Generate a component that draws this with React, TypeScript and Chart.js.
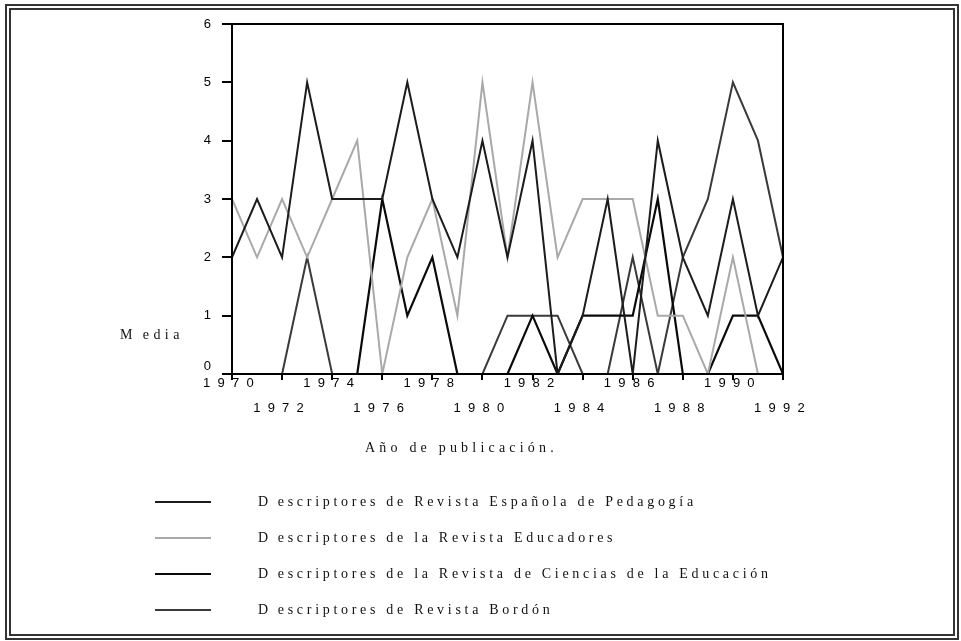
import React, { useEffect, useRef } from "react";
import { Chart, registerables } from "chart.js";

Chart.register(...registerables);

const years = [1970, 1971, 1972, 1973, 1974, 1975, 1976, 1977, 1978, 1979, 1980, 1981, 1982, 1983, 1984, 1985, 1986, 1987, 1988, 1989, 1990, 1991, 1992];
const espanola = [2, 3, 2, 5, 3, 3, 3, 5, 3, 2, 4, 2, 4, 0, 1, 3, 0, 4, 2, 1, 3, 1, 2];
const educadores = [3, 2, 3, 2, 3, 4, 0, 2, 3, 1, 5, 2, 5, 2, 3, 3, 3, 1, 1, 0, 2, 0, 0];
const ciencias = [0, 0, 0, 0, 0, 0, 3, 1, 2, 0, 0, 0, 1, 0, 1, 1, 1, 3, 0, 0, 1, 1, 0];
const bordon = [0, 0, 0, 2, 0, 0, 0, 0, 0, 0, 0, 1, 1, 1, 0, 0, 2, 0, 2, 3, 5, 4, 2];

const seriesLabels = [
  "Descriptores de Revista Española de Pedagogía",
  "Descriptores de la Revista Educadores",
  "Descriptores de la Revista de Ciencias de la Educación",
  "Descriptores de Revista Bordón",
];
const seriesColors = ["#1c1c1c", "#a9a9a9", "#0a0a0a", "#3a3a3a"];
const seriesWidths = [2, 2, 2.2, 2];

const yTitle = "Media";
const xTitle = "Año de publicación.";

const tickFont = "'Liberation Sans', Arial, sans-serif";
const serif = "'Liberation Serif', 'Times New Roman', serif";

const framePlugin = {
  id: "frame",
  afterDatasetsDraw(chart: any) {
    const { ctx, chartArea: a } = chart;
    ctx.save();
    ctx.strokeStyle = "#000";
    ctx.lineWidth = 2;
    ctx.strokeRect(a.left, a.top, a.right - a.left, a.bottom - a.top);
    ctx.restore();
  },
};

function spaced(s: string) {
  return s.split("").join("  ") + "  ";
}

function Spaced({ text }: { text: string }) {
  return (
    <>
      <span style={{ marginRight: 6 }}>{text.charAt(0)}</span>
      {text.slice(1)}
    </>
  );
}

export default function App() {
  const ref = useRef<HTMLCanvasElement | null>(null);

  useEffect(() => {
    if (!ref.current) return;
    const all = [espanola, educadores, ciencias, bordon];
    const chart = new Chart(ref.current, {
      type: "line",
      data: {
        datasets: all.map((vals, i) => ({
          label: seriesLabels[i],
          data: years.map((yr, j) => ({ x: yr, y: vals[j] })),
          borderColor: seriesColors[i],
          backgroundColor: seriesColors[i],
          borderWidth: seriesWidths[i],
          pointRadius: 0,
          tension: 0,
          fill: false,
        })),
      },
      options: {
        responsive: false,
        animation: false,
        layout: { padding: { left: 0, top: 24, right: 178, bottom: 217 } },
        plugins: { legend: { display: false }, tooltip: { enabled: false } },
        scales: {
          x: {
            type: "linear",
            min: 1970,
            max: 1992,
            afterFit: (s: any) => {
              s.height = 50;
            },
            ticks: {
              stepSize: 2,
              autoSkip: false,
              maxRotation: 0,
              minRotation: 0,
              padding: -9,
              color: "#000",
              font: { family: tickFont, size: 13, lineHeight: 25 / 13 },
              callback: (v: any) => {
                const n = Number(v);
                const s = spaced(String(n));
                return n % 4 === 2 ? [s, ""] : ["", s];
              },
            },
            grid: { drawOnChartArea: false, tickLength: 6, color: "#000", lineWidth: 2 },
            border: { display: true, color: "#000", width: 2 },
          },
          y: {
            min: 0,
            max: 6,
            afterFit: (s: any) => {
              s.width = 232;
            },
            ticks: {
              stepSize: 1,
              padding: 11,
              color: "#000",
              font: { family: tickFont, size: 13, lineHeight: 1.1 },
              callback: (v: any) => (Number(v) === 0 ? ["0", ""] : String(v)),
            },
            grid: { drawOnChartArea: false, tickLength: 10, color: "#000", lineWidth: 2 },
            border: { display: true, color: "#000", width: 2 },
          },
        },
      },
      plugins: [framePlugin],
    } as any);
    return () => chart.destroy();
  }, []);

  const textStyle: React.CSSProperties = {
    position: "absolute",
    fontFamily: serif,
    fontSize: 14,
    lineHeight: "16px",
    letterSpacing: "3.7px",
    color: "#111",
    whiteSpace: "nowrap",
  };

  const rows = [502, 538, 574, 610];

  return (
    <div style={{ position: "absolute", left: 0, top: 0, width: 961, height: 641, background: "#fff", overflow: "hidden" }}>
      <div
        style={{
          position: "absolute",
          left: 5,
          top: 4,
          width: 954,
          height: 636,
          boxSizing: "border-box",
          border: "6px double #333",
        }}
      />
      <canvas ref={ref} width={961} height={641} style={{ position: "absolute", left: 0, top: 0, width: 961, height: 641 }} />
      <div style={{ ...textStyle, left: 120, top: 335 - 8, letterSpacing: "4.4px" }}>
        <Spaced text={yTitle} />
      </div>
      <div style={{ ...textStyle, left: 365, top: 448 - 8, letterSpacing: "4.2px" }}>{xTitle}</div>
      {seriesLabels.map((lab, i) => (
        <React.Fragment key={lab}>
          <div
            style={{
              position: "absolute",
              left: 155,
              top: rows[i] - seriesWidths[i] / 2,
              width: 56,
              height: seriesWidths[i],
              background: seriesColors[i],
            }}
          />
          <div style={{ ...textStyle, left: 258, top: rows[i] - 8 }}>
            <Spaced text={lab} />
          </div>
        </React.Fragment>
      ))}
    </div>
  );
}
